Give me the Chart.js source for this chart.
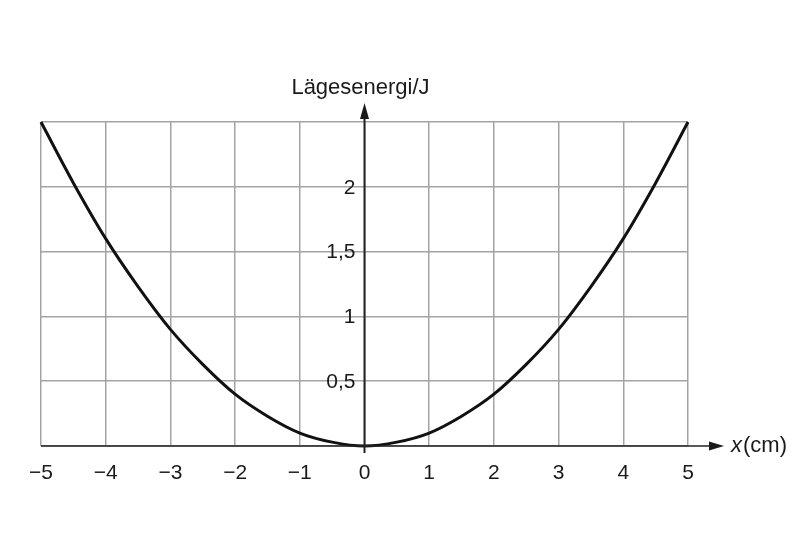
<!DOCTYPE html>
<html>
<head>
<meta charset="utf-8">
<script src="https://cdn.jsdelivr.net/npm/chart.js@4.4.0/dist/chart.umd.min.js"></script>
<style>
  html, body { margin: 0; padding: 0; background: #fff; }
</style>
</head>
<body>
<canvas id="grafico" width="800" height="533"></canvas>
<script>
// Datos (x en cm, energía en J)
const posX = [-5, -4.5, -4, -3.5, -3, -2.5, -2, -1.5, -1, -0.5, 0, 0.5, 1, 1.5, 2, 2.5, 3, 3.5, 4, 4.5, 5];
const energia = [2.5, 2.03, 1.6, 1.23, 0.9, 0.63, 0.4, 0.23, 0.1, 0.03, 0, 0.03, 0.1, 0.23, 0.4, 0.63, 0.9, 1.23, 1.6, 2.03, 2.5];
const ticksX = [-5, -4, -3, -2, -1, 0, 1, 2, 3, 4, 5];
const ticksY = [0.5, 1, 1.5, 2];
const etiquetasY = ['0,5', '1', '1,5', '2'];

const fuente = '"Liberation Sans", Arial, sans-serif';

// Plugin para ejes con flechas y etiquetas
const ejes = {
    id: 'ejes',
    afterDraw(chart) {
        const ctx = chart.ctx;
        const sx = chart.scales.x;
        const sy = chart.scales.y;
        const x0 = sx.getPixelForValue(0);
        const y0 = sy.getPixelForValue(0);
        const xIzq = sx.getPixelForValue(-5);
        const yTop = sy.getPixelForValue(2.5);

        ctx.save();
        ctx.strokeStyle = '#222';
        ctx.fillStyle = '#1a1a1a';

        // eje x
        ctx.lineWidth = 1.5;
        ctx.beginPath();
        ctx.moveTo(xIzq, y0);
        ctx.lineTo(712, y0);
        ctx.stroke();
        ctx.beginPath();
        ctx.moveTo(724, y0);
        ctx.lineTo(709, y0 - 4.5);
        ctx.lineTo(709, y0 + 4.5);
        ctx.closePath();
        ctx.fill();

        // eje y
        ctx.lineWidth = 2;
        ctx.beginPath();
        ctx.moveTo(x0, y0 + 7);
        ctx.lineTo(x0, yTop - 5);
        ctx.stroke();
        ctx.beginPath();
        ctx.moveTo(x0, yTop - 19);
        ctx.lineTo(x0 - 4.5, yTop - 3);
        ctx.lineTo(x0 + 4.5, yTop - 3);
        ctx.closePath();
        ctx.fill();

        // etiquetas del eje x
        ctx.font = '21px ' + fuente;
        ctx.textAlign = 'center';
        ctx.textBaseline = 'middle';
        ticksX.forEach(v => {
            const txt = v < 0 ? '\u2212' + Math.abs(v) : String(v);
            ctx.fillText(txt, sx.getPixelForValue(v), y0 + 27);
        });

        // etiquetas del eje y
        ctx.textAlign = 'right';
        ticksY.forEach((v, i) => {
            ctx.fillText(etiquetasY[i], x0 - 9, sy.getPixelForValue(v) + 1);
        });

        // títulos
        ctx.textAlign = 'center';
        ctx.font = '22px ' + fuente;
        ctx.fillText('Lägesenergi/J', x0 - 4, yTop - 34);
        ctx.textAlign = 'left';
        ctx.font = 'italic 22px ' + fuente;
        ctx.fillText('x', 731, y0);
        const wx = ctx.measureText('x').width;
        ctx.font = '22px ' + fuente;
        ctx.fillText('(cm)', 731 + wx + 1, y0);
        ctx.restore();
    }
};

const ctx = document.getElementById('grafico').getContext('2d');
const chart = new Chart(ctx, {
    type: 'scatter',
    data: {
        datasets: [{
            data: posX.map((x, i) => ({ x: x, y: energia[i] })),
            showLine: true,
            borderColor: '#111',
            borderWidth: 3,
            pointRadius: 0,
            tension: 0.4,
            cubicInterpolationMode: 'monotone',
            clip: false
        }]
    },
    options: {
        responsive: false,
        animation: false,
        devicePixelRatio: 1,
        layout: { padding: { left: 41, right: 112, top: 122, bottom: 87 } },
        plugins: {
            legend: { display: false },
            tooltip: { enabled: false }
        },
        scales: {
            x: {
                type: 'linear',
                min: -5,
                max: 5,
                ticks: { display: false, stepSize: 1 },
                grid: { color: '#a3a3a3', lineWidth: 1.5, drawTicks: false },
                border: { display: false }
            },
            y: {
                min: 0,
                max: 2.5,
                ticks: { display: false, stepSize: 0.5 },
                grid: { color: '#a3a3a3', lineWidth: 1.5, drawTicks: false },
                border: { display: false }
            }
        }
    },
    plugins: [ejes]
});
</script>
</body>
</html>
